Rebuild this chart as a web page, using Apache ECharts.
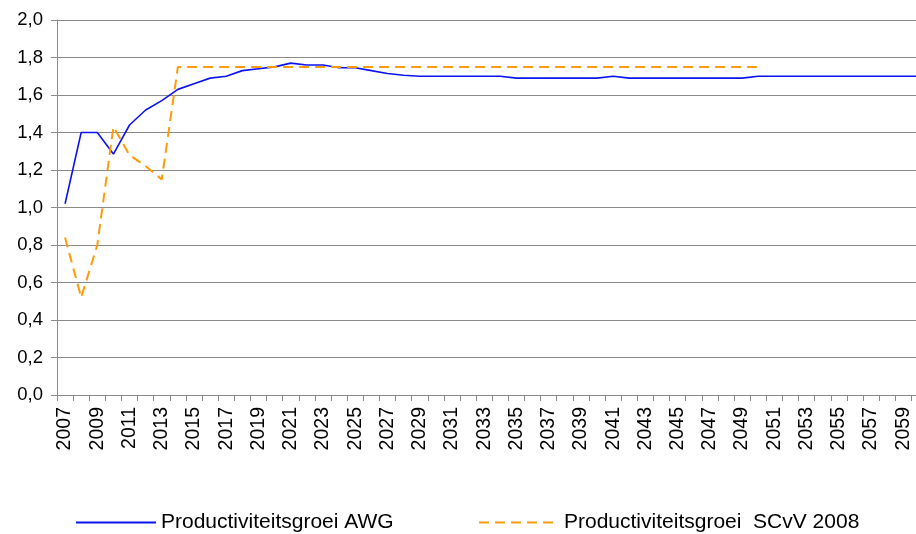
<!DOCTYPE html>
<html>
<head>
<meta charset="utf-8">
<script src="https://cdn.jsdelivr.net/npm/echarts@6/dist/echarts.min.js"></script>
<style>
    html, body { margin: 0; padding: 0; background: #fff; }
    #chart { width: 916px; height: 534px; }
</style>
</head>
<body>
<div id="chart"></div>
<script>
// jaren
const years = [
    '2007', '2008', '2009', '2010', '2011', '2012', '2013', '2014', '2015', '2016',
    '2017', '2018', '2019', '2020', '2021', '2022', '2023', '2024', '2025', '2026',
    '2027', '2028', '2029', '2030', '2031', '2032', '2033', '2034', '2035', '2036',
    '2037', '2038', '2039', '2040', '2041', '2042', '2043', '2044', '2045', '2046',
    '2047', '2048', '2049', '2050', '2051', '2052', '2053', '2054', '2055', '2056',
    '2057', '2058', '2059', '2060'
];

// Productiviteitsgroei AWG
const awg = [
    1.02, 1.40, 1.40, 1.285, 1.44, 1.52, 1.57, 1.63, 1.66, 1.69,
    1.70, 1.73, 1.74, 1.75, 1.77, 1.76, 1.76, 1.745, 1.745, 1.73,
    1.715, 1.705, 1.70, 1.70, 1.70, 1.70, 1.70, 1.70, 1.69, 1.69,
    1.69, 1.69, 1.69, 1.69, 1.70, 1.69, 1.69, 1.69, 1.69, 1.69,
    1.69, 1.69, 1.69, 1.70, 1.70, 1.70, 1.70, 1.70, 1.70, 1.70,
    1.70, 1.70, 1.70, 1.70
];

// Productiviteitsgroei SCvV 2008 (loopt tot 2050)
const scvv = [
    0.84, 0.52, 0.80, 1.43, 1.28, 1.22, 1.15, 1.75, 1.75, 1.75,
    1.75, 1.75, 1.75, 1.75, 1.75, 1.75, 1.75, 1.75, 1.75, 1.75,
    1.75, 1.75, 1.75, 1.75, 1.75, 1.75, 1.75, 1.75, 1.75, 1.75,
    1.75, 1.75, 1.75, 1.75, 1.75, 1.75, 1.75, 1.75, 1.75, 1.75,
    1.75, 1.75, 1.75, 1.75, null, null, null, null, null, null,
    null, null, null, null
];

const seriesNames = ['Productiviteitsgroei AWG', 'Productiviteitsgroei  SCvV 2008'];

const font = '"Liberation Sans", Arial, sans-serif';
const gridColor = '#8a8a8a';

const chart = echarts.init(document.getElementById('chart'));

const option = {
    animation: false,
    backgroundColor: '#fff',
    textStyle: { fontFamily: font },
    grid: {
        left: 57,
        top: 20,
        right: -11.5,
        bottom: 139,
        outerBoundsMode: 'none'
    },
    legend: [
        {
            data: [seriesNames[0]],
            left: 75,
            top: 512,
            padding: 0,
            itemWidth: 80,
            itemHeight: 14,
            itemStyle: { opacity: 0 },
            textStyle: { fontFamily: font, fontSize: 21, color: '#000' }
        },
        {
            data: [seriesNames[1]],
            left: 478,
            top: 512,
            padding: 0,
            itemWidth: 75,
            itemHeight: 14,
            itemStyle: { opacity: 0 },
            textStyle: { fontFamily: font, fontSize: 21, color: '#000', padding: [0, 0, 0, 5] }
        }
    ],
    xAxis: {
        type: 'category',
        data: years,
        boundaryGap: true,
        axisLine: { lineStyle: { color: gridColor, width: 1 } },
        axisTick: { show: true, interval: 0, length: 6, lineStyle: { color: gridColor } },
        axisLabel: {
            interval: 1,
            rotate: 90,
            margin: 12,
            fontSize: 19.5,
            color: '#000',
            fontFamily: font
        }
    },
    yAxis: {
        type: 'value',
        min: 0,
        max: 2,
        interval: 0.2,
        axisLine: { show: true, lineStyle: { color: gridColor, width: 1 } },
        axisTick: { show: true, length: 6, lineStyle: { color: gridColor } },
        splitLine: { show: true, lineStyle: { color: gridColor, width: 1 } },
        axisLabel: {
            margin: 14,
            fontSize: 18.5,
            color: '#000',
            fontFamily: font,
            formatter: function (v) { return v.toFixed(1).replace('.', ','); }
        }
    },
    series: [
        {
            name: seriesNames[0],
            type: 'line',
            data: awg,
            symbol: 'none',
            lineStyle: { color: '#0a14f0', width: 1.6 },
            itemStyle: { color: '#0a14f0' }
        },
        {
            name: seriesNames[1],
            type: 'line',
            data: scvv,
            symbol: 'none',
            lineStyle: { color: '#ff9a0a', width: 2, type: [10, 6] },
            itemStyle: { color: '#ff9a0a' }
        }
    ]
};

chart.setOption(option);
</script>
</body>
</html>
